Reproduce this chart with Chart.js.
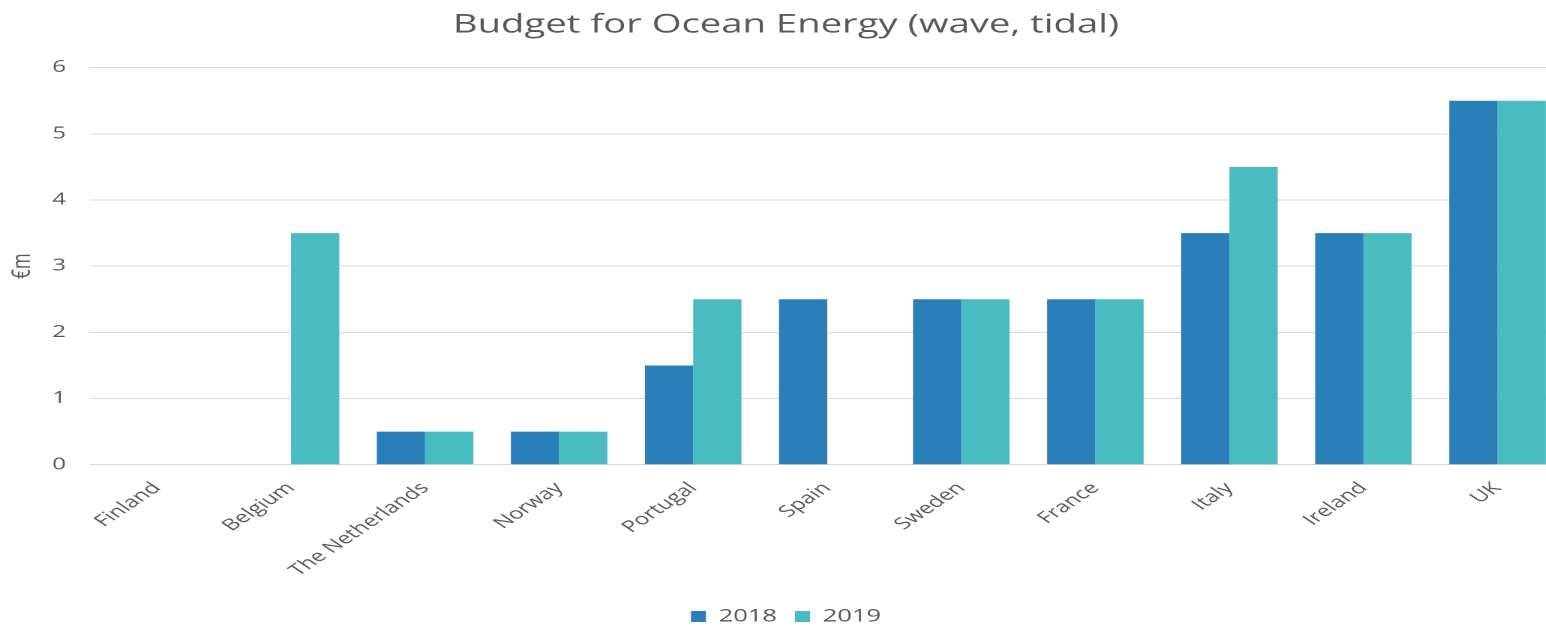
<!DOCTYPE html>
<html>
<head>
<meta charset="utf-8">
<script src="https://cdn.jsdelivr.net/npm/chart.js@4"></script>
<style>
  html, body { margin: 0; padding: 0; background: #fff; overflow: hidden; }
  /* el original esta estirado horizontalmente, se dibuja mas angosto y se escala */
  #wrap { width: 1043px; height: 627px; transform: scaleX(1.5); transform-origin: 0 0; }
</style>
</head>
<body>
<div id="wrap"><canvas id="oceanChart"></canvas></div>
<script>
// paises y presupuesto (en millones de euros)
const paises = ['Finland', 'Belgium', 'The Netherlands', 'Norway', 'Portugal', 'Spain',
                'Sweden', 'France', 'Italy', 'Ireland', 'UK'];
const budget2018 = [0, 0, 0.5, 0.5, 1.5, 2.5, 2.5, 2.5, 3.5, 3.5, 5.5];
const budget2019 = [0, 3.5, 0.5, 0.5, 2.5, 0, 2.5, 2.5, 4.5, 3.5, 5.5];
const yTicks = [0, 1, 2, 3, 4, 5, 6];

const gris = '#595959';
const fuente = '"Open Sans", "Noto Sans", sans-serif';

const ctx = document.getElementById('oceanChart').getContext('2d');
const oceanChart = new Chart(ctx, {
    type: 'bar',
    data: {
        labels: paises,
        datasets: [{
            label: '2018',
            data: budget2018,
            backgroundColor: '#2a7fb8',
            borderWidth: 0
        }, {
            label: '2019',
            data: budget2019,
            backgroundColor: '#4abbc1',
            borderWidth: 0
        }]
    },
    options: {
        responsive: true,
        maintainAspectRatio: false,
        animation: false,
        devicePixelRatio: 2,
        // padding inferior negativo para bajar la leyenda
        layout: { padding: { left: 5, right: 0, top: 0, bottom: -8 } },
        datasets: {
            bar: { categoryPercentage: 0.72, barPercentage: 1.0 }
        },
        plugins: {
            title: {
                display: true,
                text: 'Budget for Ocean Energy (wave, tidal)',
                color: gris,
                font: { family: fuente, size: 25.5, weight: 'normal' },
                padding: { top: 10, bottom: 27 }
            },
            legend: {
                position: 'bottom',
                labels: {
                    color: gris,
                    font: { family: fuente, size: 17 },
                    boxWidth: 10,
                    boxHeight: 11,
                    padding: 12
                }
            },
            tooltip: { enabled: false }
        },
        scales: {
            x: {
                grid: { display: false },
                border: { display: false },
                afterFit: function(scale) {
                    scale.height += 10;
                },
                ticks: {
                    color: gris,
                    font: { family: fuente, size: 16 },
                    minRotation: 45,
                    maxRotation: 45,
                    padding: 6
                }
            },
            y: {
                min: 0,
                max: 6,
                afterBuildTicks: function(scale) {
                    scale.ticks = yTicks.map(v => ({ value: v }));
                },
                afterFit: function(scale) {
                    scale.width = 55;
                },
                grid: { color: '#d9d9d9', lineWidth: 1, drawTicks: false },
                border: { display: false },
                ticks: {
                    color: gris,
                    font: { family: fuente, size: 16 },
                    padding: 16
                },
                title: {
                    display: true,
                    text: '€m',
                    color: gris,
                    font: { family: fuente, size: 17 },
                    padding: 0
                }
            }
        }
    }
});
</script>
</body>
</html>
